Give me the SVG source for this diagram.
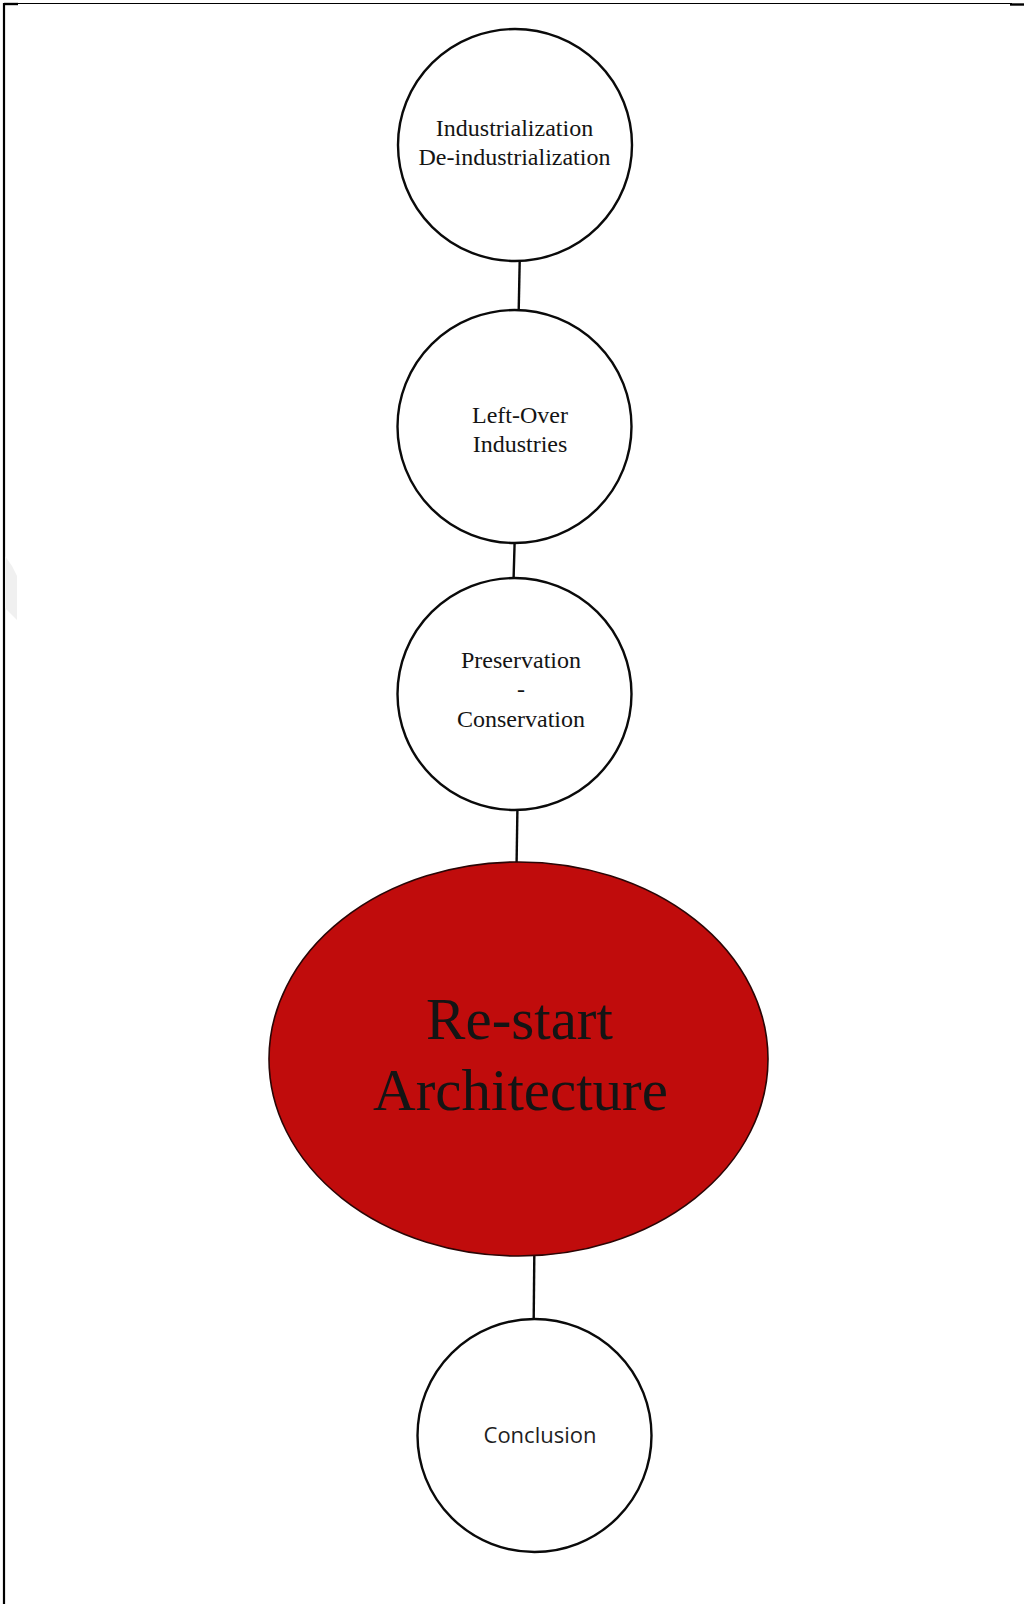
<svg xmlns="http://www.w3.org/2000/svg" width="1024" height="1604" viewBox="0 0 1024 1604">
<style>
.node{fill:#ffffff;stroke:#0a0a0a;stroke-width:2.4}
.main{fill:#c00c0c;stroke:#2a0505;stroke-width:1.6}
.conn{stroke:#0a0a0a;stroke-width:2.4;fill:none}
.serif{font-family:"Liberation Serif","Times New Roman",serif;fill:#141414;text-anchor:middle}
.sans{font-family:"Open Sans","Noto Sans",sans-serif;fill:#1e1e1e;text-anchor:middle}
</style>
<rect x="0" y="0" width="1024" height="1604" fill="#ffffff"/>
<g id="frame">
<line x1="4" y1="3.5" x2="1012" y2="3.5" stroke="#000" stroke-width="1.2"/>
<line x1="4" y1="4" x2="18" y2="4" stroke="#000" stroke-width="2.4"/>
<line x1="1010" y1="4.5" x2="1024" y2="4.5" stroke="#000" stroke-width="2.4"/>
<line x1="4" y1="3" x2="4" y2="1604" stroke="#000" stroke-width="2.2"/>
<polygon points="5,556 12,566 17,576 17,620 5,608" fill="#f0f0f0"/>
</g>
<g id="connectors">
<line class="conn" x1="519.7" y1="261" x2="518.7" y2="310"/>
<line class="conn" x1="514.6" y1="543" x2="513.6" y2="578"/>
<line class="conn" x1="517.4" y1="810" x2="516.6" y2="863"/>
<line class="conn" x1="534.3" y1="1256" x2="533.7" y2="1319"/>
</g>
<g id="node-industrialization">
<ellipse class="node" cx="515" cy="145" rx="117" ry="116"/>
<text class="serif" x="514.5" y="136" font-size="24">Industrialization</text>
<text class="serif" x="514.5" y="165" font-size="24">De-industrialization</text>
</g>
<g id="node-leftover">
<ellipse class="node" cx="514.5" cy="426.5" rx="117" ry="116.5"/>
<text class="serif" x="520" y="423" font-size="24">Left-Over</text>
<text class="serif" x="520" y="452" font-size="24">Industries</text>
</g>
<g id="node-preservation">
<ellipse class="node" cx="514.5" cy="694" rx="117" ry="116"/>
<text class="serif" x="521" y="668" font-size="24">Preservation</text>
<text class="serif" x="521" y="697" font-size="24">-</text>
<text class="serif" x="521" y="727" font-size="24">Conservation</text>
</g>
<g id="node-restart">
<ellipse class="main" cx="518.5" cy="1059" rx="249.5" ry="197"/>
<text class="serif" x="519.5" y="1039" font-size="59" fill="#0a0000">Re-start</text>
<text class="serif" x="520.5" y="1110" font-size="59" fill="#0a0000">Architecture</text>
</g>
<g id="node-conclusion">
<ellipse class="node" cx="534.5" cy="1435.5" rx="117" ry="116.5"/>
<text class="sans" x="540" y="1443" font-size="22">Conclusion</text>
</g>
</svg>
